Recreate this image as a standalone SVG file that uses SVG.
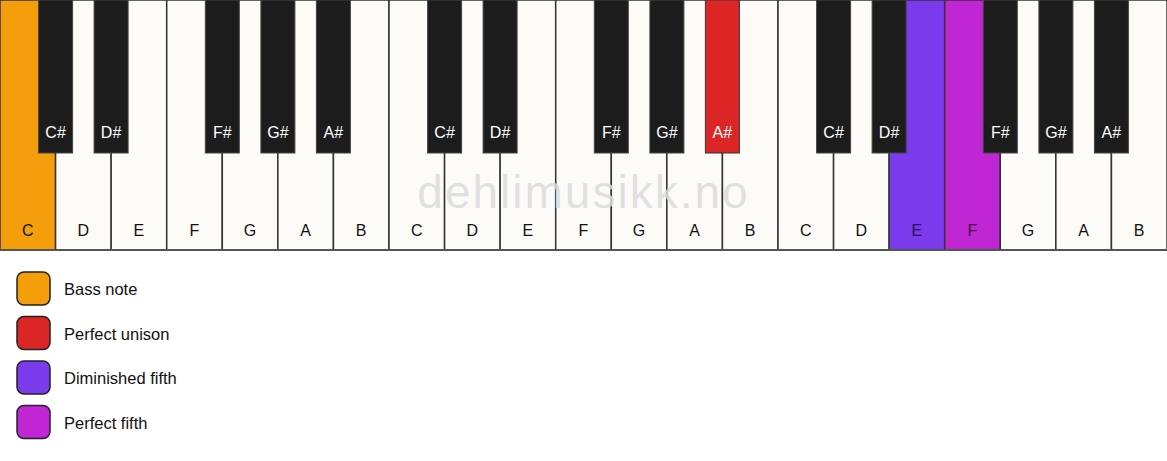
<svg xmlns="http://www.w3.org/2000/svg" width="1167" height="461" viewBox="0 0 1167 461">
<style>
.w{fill:#fcfbf8;stroke:#333;stroke-width:1.5}
.b{fill:#1c1c1c;stroke:#444;stroke-width:1}
.t{font-family:"Liberation Sans",Arial,sans-serif;font-size:16px;text-anchor:middle}
.tw{fill:#111}
.tb{fill:#fff}
.lg{stroke:#222;stroke-width:1.5}
.lt{font-family:"Liberation Sans",Arial,sans-serif;font-size:16.5px;fill:#111}
</style>
<rect width="1167" height="461" fill="#fff"/>
<g id="white-keys">
<g id="w0"><rect class="w" x="0" y="0" width="55.571" height="250" style="fill:#f59e0b"/><text class="t tw" x="27.8" y="236">C</text></g>
<g id="w1"><rect class="w" x="55.571" y="0" width="55.571" height="250"/><text class="t tw" x="83.4" y="236">D</text></g>
<g id="w2"><rect class="w" x="111.143" y="0" width="55.571" height="250"/><text class="t tw" x="138.9" y="236">E</text></g>
<g id="w3"><rect class="w" x="166.714" y="0" width="55.571" height="250"/><text class="t tw" x="194.5" y="236">F</text></g>
<g id="w4"><rect class="w" x="222.286" y="0" width="55.571" height="250"/><text class="t tw" x="250.1" y="236">G</text></g>
<g id="w5"><rect class="w" x="277.857" y="0" width="55.571" height="250"/><text class="t tw" x="305.6" y="236">A</text></g>
<g id="w6"><rect class="w" x="333.429" y="0" width="55.571" height="250"/><text class="t tw" x="361.2" y="236">B</text></g>
<g id="w7"><rect class="w" x="389" y="0" width="55.571" height="250"/><text class="t tw" x="416.8" y="236">C</text></g>
<g id="w8"><rect class="w" x="444.571" y="0" width="55.571" height="250"/><text class="t tw" x="472.4" y="236">D</text></g>
<g id="w9"><rect class="w" x="500.143" y="0" width="55.571" height="250"/><text class="t tw" x="527.9" y="236">E</text></g>
<g id="w10"><rect class="w" x="555.714" y="0" width="55.571" height="250"/><text class="t tw" x="583.5" y="236">F</text></g>
<g id="w11"><rect class="w" x="611.286" y="0" width="55.571" height="250"/><text class="t tw" x="639.1" y="236">G</text></g>
<g id="w12"><rect class="w" x="666.857" y="0" width="55.571" height="250"/><text class="t tw" x="694.6" y="236">A</text></g>
<g id="w13"><rect class="w" x="722.429" y="0" width="55.571" height="250"/><text class="t tw" x="750.2" y="236">B</text></g>
<g id="w14"><rect class="w" x="778" y="0" width="55.571" height="250"/><text class="t tw" x="805.8" y="236">C</text></g>
<g id="w15"><rect class="w" x="833.571" y="0" width="55.571" height="250"/><text class="t tw" x="861.4" y="236">D</text></g>
<g id="w16"><rect class="w" x="889.143" y="0" width="55.571" height="250" style="fill:#7c3aed"/><text class="t" x="916.9" y="236" fill="#2a1550">E</text></g>
<g id="w17"><rect class="w" x="944.714" y="0" width="55.571" height="250" style="fill:#c026d3"/><text class="t" x="972.5" y="236" fill="#3d0f44">F</text></g>
<g id="w18"><rect class="w" x="1000.286" y="0" width="55.571" height="250"/><text class="t tw" x="1028.1" y="236">G</text></g>
<g id="w19"><rect class="w" x="1055.857" y="0" width="55.571" height="250"/><text class="t tw" x="1083.6" y="236">A</text></g>
<g id="w20"><rect class="w" x="1111.429" y="0" width="55.571" height="250"/><text class="t tw" x="1139.2" y="236">B</text></g>
<line x1="0" y1="250" x2="1167" y2="250" stroke="#555" stroke-width="2"/>
</g>
<text x="583.5" y="208" font-family="'Liberation Sans',Arial,sans-serif" font-size="46" letter-spacing="2" text-anchor="middle" fill="#dcdcdc" fill-opacity="0.85">dehlimusikk.no</text>
<g id="black-keys">
<g id="b0"><rect class="b" x="38.6" y="0" width="34" height="153"/><text class="t tb" x="55.6" y="138">C#</text></g>
<g id="b1"><rect class="b" x="94.1" y="0" width="34" height="153"/><text class="t tb" x="111.1" y="138">D#</text></g>
<g id="b2"><rect class="b" x="205.3" y="0" width="34" height="153"/><text class="t tb" x="222.3" y="138">F#</text></g>
<g id="b3"><rect class="b" x="260.9" y="0" width="34" height="153"/><text class="t tb" x="277.9" y="138">G#</text></g>
<g id="b4"><rect class="b" x="316.4" y="0" width="34" height="153"/><text class="t tb" x="333.4" y="138">A#</text></g>
<g id="b5"><rect class="b" x="427.6" y="0" width="34" height="153"/><text class="t tb" x="444.6" y="138">C#</text></g>
<g id="b6"><rect class="b" x="483.1" y="0" width="34" height="153"/><text class="t tb" x="500.1" y="138">D#</text></g>
<g id="b7"><rect class="b" x="594.3" y="0" width="34" height="153"/><text class="t tb" x="611.3" y="138">F#</text></g>
<g id="b8"><rect class="b" x="649.9" y="0" width="34" height="153"/><text class="t tb" x="666.9" y="138">G#</text></g>
<g id="b9"><rect class="b" x="705.4" y="0" width="34" height="153" style="fill:#dc2626;stroke:#333"/><text class="t tb" x="722.4" y="138">A#</text></g>
<g id="b10"><rect class="b" x="816.6" y="0" width="34" height="153"/><text class="t tb" x="833.6" y="138">C#</text></g>
<g id="b11"><rect class="b" x="872.1" y="0" width="34" height="153"/><text class="t tb" x="889.1" y="138">D#</text></g>
<g id="b12"><rect class="b" x="983.3" y="0" width="34" height="153"/><text class="t tb" x="1000.3" y="138">F#</text></g>
<g id="b13"><rect class="b" x="1038.9" y="0" width="34" height="153"/><text class="t tb" x="1055.9" y="138">G#</text></g>
<g id="b14"><rect class="b" x="1094.4" y="0" width="34" height="153"/><text class="t tb" x="1111.4" y="138">A#</text></g>
</g>
<g id="legend">
<g id="lg-bass"><rect class="lg" x="17" y="272" width="33" height="33" rx="7" fill="#f59e0b"/><text class="lt" x="64" y="295">Bass note</text></g>
<g id="lg-unison"><rect class="lg" x="17" y="316.5" width="33" height="33" rx="7" fill="#dc2626"/><text class="lt" x="64" y="339.5">Perfect unison</text></g>
<g id="lg-dim5"><rect class="lg" x="17" y="361" width="33" height="33" rx="7" fill="#7c3aed"/><text class="lt" x="64" y="384">Diminished fifth</text></g>
<g id="lg-p5"><rect class="lg" x="17" y="405.5" width="33" height="33" rx="7" fill="#c026d3"/><text class="lt" x="64" y="428.5">Perfect fifth</text></g>
</g>
</svg>
